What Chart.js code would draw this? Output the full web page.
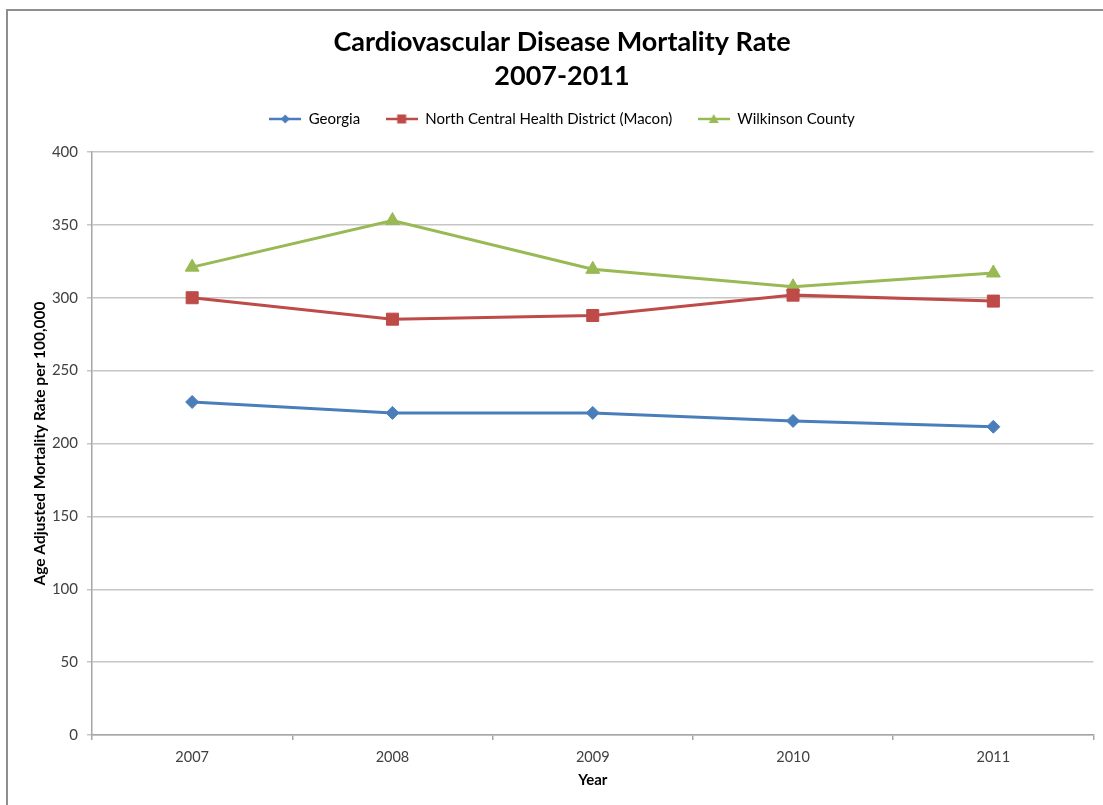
<!DOCTYPE html>
<html><head><meta charset="utf-8">
<script src="https://cdn.jsdelivr.net/npm/chart.js@4"></script>
<style>
html,body{margin:0;padding:0;background:#fff;overflow:hidden;width:1103px;height:805px;}
#frame{position:absolute;left:6px;top:9px;width:1130px;height:830px;border:2px solid #8e8e8e;box-sizing:border-box;}
#c{position:absolute;left:0;top:0;}
</style></head><body>
<div id="frame"></div>
<canvas id="c" width="1103" height="805"></canvas>
<script>
const years = ['2007', '2008', '2009', '2010', '2011'];
const georgia = [228.5, 221, 221, 215.5, 211.5];
const northCentral = [300, 285.3, 287.8, 301.8, 297.7];
const wilkinson = [321, 353, 319.5, 307.5, 317];
const seriesNames = ['Georgia', 'North Central Health District (Macon)', 'Wilkinson County'];
const titleLines = ['Cardiovascular Disease Mortality Rate', '2007-2011'];
const yAxisTitle = 'Age Adjusted Mortality Rate per 100,000';
const xAxisTitle = 'Year';

const colors = ['#4a7ebb', '#be4b48', '#98b954'];
const styles = ['rectRot', 'rect', 'triangle'];
const radii = [6.5, 8.5, 8];

function legendIcon(color, style) {
  const c = document.createElement('canvas');
  c.width = 32; c.height = 14;
  const ctx = c.getContext('2d');
  ctx.strokeStyle = color; ctx.fillStyle = color; ctx.lineWidth = 2.5;
  ctx.beginPath(); ctx.moveTo(0, 7); ctx.lineTo(32, 7); ctx.stroke();
  ctx.beginPath();
  if (style === 'rectRot') {
    ctx.moveTo(16, 2.5); ctx.lineTo(20.5, 7); ctx.lineTo(16, 11.5); ctx.lineTo(11.5, 7);
  } else if (style === 'rect') {
    ctx.rect(11.5, 2.5, 9, 9);
  } else {
    ctx.moveTo(16, 2); ctx.lineTo(21, 11); ctx.lineTo(11, 11);
  }
  ctx.closePath(); ctx.fill();
  return c;
}
const icons = colors.map((c, i) => legendIcon(c, styles[i]));

const dataSets = [georgia, northCentral, wilkinson].map((d, i) => ({
  label: seriesNames[i],
  data: d,
  borderColor: colors[i],
  backgroundColor: colors[i],
  borderWidth: 3,
  pointStyle: styles[i],
  pointRadius: radii[i],
  pointHoverRadius: radii[i],
  pointBorderWidth: 1,
  pointBackgroundColor: colors[i],
  pointBorderColor: colors[i],
  tension: 0
}));

const FONT = 'Lato, "Open Sans", sans-serif';

// adds empty space below the legend, between it and the plot
const legendSpacer = {
  id: 'legendSpacer',
  beforeLayout(chart) {
    const lg = chart.legend;
    if (lg && !lg._spacerPatched) {
      const orig = lg.fit;
      lg.fit = function () { orig.apply(this, arguments); this.height += 15.5; };
      lg._spacerPatched = true;
    }
  }
};

new Chart(document.getElementById('c'), {
  type: 'line',
  data: { labels: years, datasets: dataSets },
  plugins: [legendSpacer],
  options: {
    responsive: false,
    animation: false,
    devicePixelRatio: 1,
    layout: { padding: { left: 28, right: 7, top: 0, bottom: 14 } },
    plugins: {
      title: {
        display: true,
        text: titleLines,
        color: '#000',
        font: { family: FONT, size: 27, weight: 'bold', lineHeight: '33.5px' },
        padding: { top: 26, bottom: -7 }
      },
      legend: {
        display: true,
        position: 'top',
        labels: {
          color: '#000',
          font: { family: FONT, size: 15 },
          usePointStyle: true,
          pointStyleWidth: 32,
          boxHeight: 15,
          padding: 25.5,
          generateLabels: (chart) => chart.data.datasets.map((ds, i) => ({
            text: ds.label,
            pointStyle: icons[i],
            fillStyle: colors[i],
            strokeStyle: colors[i],
            lineWidth: 0,
            hidden: false,
            datasetIndex: i
          }))
        }
      },
      tooltip: { enabled: false }
    },
    scales: {
      x: {
        offset: true,
        afterFit: (s) => { s.height = 805 - 14 - 735; },
        grid: { drawOnChartArea: false, drawTicks: true, tickLength: 5, offset: true, color: '#a6a6a6', lineWidth: 1.5 },
        border: { display: true, color: '#a6a6a6', width: 1.5 },
        ticks: { color: '#404040', font: { family: FONT, size: 14.5 }, padding: 9 },
        title: { display: true, text: xAxisTitle, color: '#000', font: { family: FONT, size: 15, weight: 'bold' }, padding: { top: 4, bottom: 2 } }
      },
      y: {
        min: 0, max: 400,
        afterFit: (s) => { s.width = 92 - 28; },
        grid: { drawOnChartArea: true, drawTicks: true, tickLength: 5, color: '#c6c6c6', lineWidth: 1.5 },
        border: { display: true, color: '#a6a6a6', width: 1.5 },
        ticks: { stepSize: 50, color: '#404040', font: { family: FONT, size: 15 }, padding: 9 },
        title: { display: true, text: yAxisTitle, color: '#000', font: { family: FONT, size: 15.5, weight: 'bold' }, padding: { top: 3, bottom: 0 } }
      }
    }
  }
});
</script>
</body></html>
